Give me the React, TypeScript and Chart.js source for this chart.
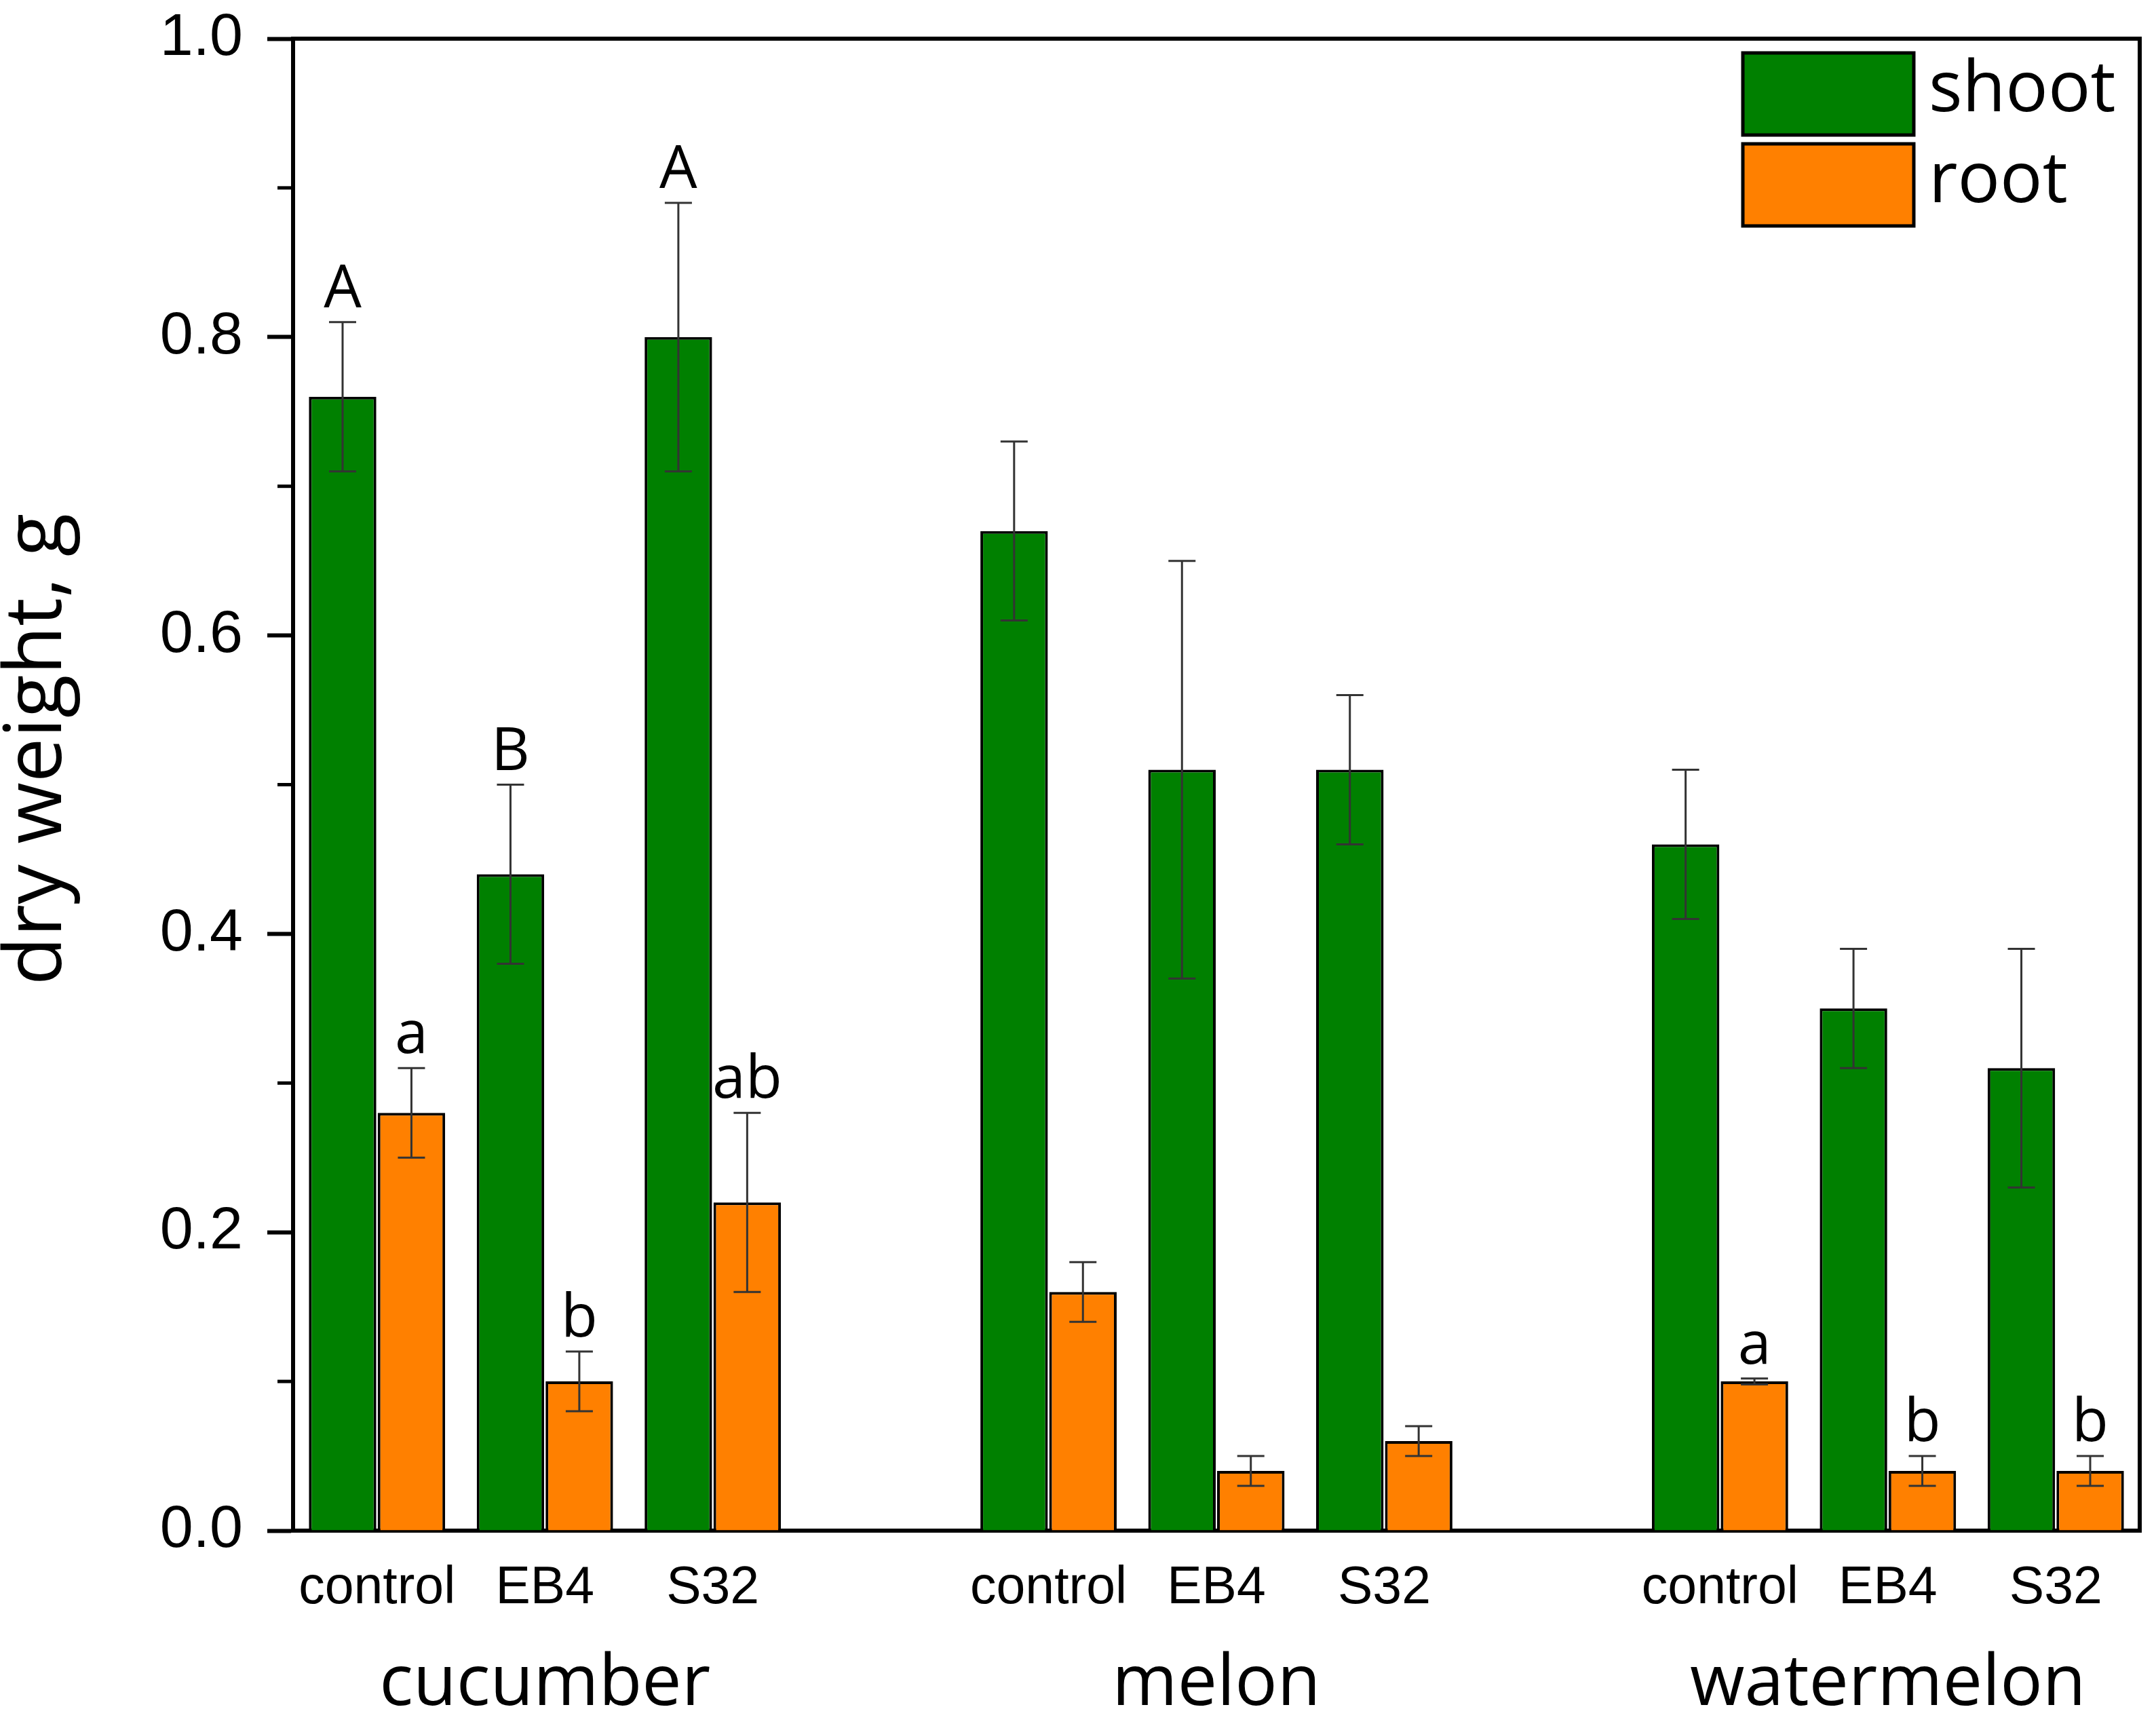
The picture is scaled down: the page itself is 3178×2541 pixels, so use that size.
import { useEffect, useRef } from 'react'
import { Chart, registerables } from 'chart.js'

Chart.register(...registerables)

// treatment slots (empty slots separate the crops)
const treatments = ['control', 'EB4', 'S32', '', 'control', 'EB4', 'S32', '', 'control', 'EB4', 'S32']
const crops = ['', 'cucumber', '', '', '', 'melon', '', '', '', 'watermelon', '']

const shoot = [0.76, 0.44, 0.8, null, 0.67, 0.51, 0.51, null, 0.46, 0.35, 0.31]
const shootErr = [0.05, 0.06, 0.09, null, 0.06, 0.14, 0.05, null, 0.05, 0.04, 0.08]
const shootLetters = ['A', 'B', 'A', '', '', '', '', '', '', '', '']

const root = [0.28, 0.1, 0.22, null, 0.16, 0.04, 0.06, null, 0.1, 0.04, 0.04]
const rootErr = [0.03, 0.02, 0.06, null, 0.02, 0.01, 0.01, null, 0.002, 0.01, 0.01]
const rootLetters = ['a', 'b', 'ab', '', '', '', '', '', 'a', 'b', 'b']

const yTicks = [0, 0.2, 0.4, 0.6, 0.8, 1.0]
const yMinorTicks = [0.1, 0.3, 0.5, 0.7, 0.9]
const yTitle = 'dry weight, g'

const errors = [shootErr, rootErr]
const letters = [shootLetters, rootLetters]

const SANS = 'Open Sans'
const ARIAL = 'Liberation Sans'

const errorBars = {
  id: 'errorBars',
  afterDatasetsDraw(chart: any) {
    const ctx = chart.ctx
    const y = chart.scales.y
    ctx.save()
    chart.data.datasets.forEach((ds: any, i: number) => {
      const meta = chart.getDatasetMeta(i)
      meta.data.forEach((bar: any, j: number) => {
        const v = ds.data[j]
        const e = errors[i][j]
        if (v == null || e == null) return
        const top = y.getPixelForValue(v + e)
        const bot = y.getPixelForValue(v - e)
        ctx.strokeStyle = '#333'
        ctx.lineWidth = 3
        ctx.beginPath()
        ctx.moveTo(bar.x, top)
        ctx.lineTo(bar.x, bot)
        ctx.moveTo(bar.x - 20, top)
        ctx.lineTo(bar.x + 20, top)
        ctx.moveTo(bar.x - 20, bot)
        ctx.lineTo(bar.x + 20, bot)
        ctx.stroke()
        const txt = letters[i][j]
        if (txt) {
          ctx.fillStyle = '#000'
          ctx.font = `88px "${SANS}"`
          ctx.textAlign = 'center'
          ctx.textBaseline = 'alphabetic'
          ctx.fillText(txt, bar.x, top - 22)
        }
      })
    })
    ctx.restore()
  },
}

const frame = {
  id: 'frame',
  afterDraw(chart: any) {
    const { ctx, chartArea: a, scales } = chart
    ctx.save()
    ctx.strokeStyle = '#000'
    ctx.lineWidth = 6
    ctx.beginPath()
    ctx.moveTo(a.left - 3, a.top)
    ctx.lineTo(a.right, a.top)
    ctx.lineTo(a.right, a.bottom + 3)
    ctx.stroke()
    // minor ticks on the y axis
    ctx.lineWidth = 5
    yMinorTicks.forEach((v) => {
      const py = scales.y.getPixelForValue(v)
      ctx.beginPath()
      ctx.moveTo(a.left - 23, py)
      ctx.lineTo(a.left, py)
      ctx.stroke()
    })
    // y axis title, sits a little above the middle of the axis
    ctx.save()
    ctx.translate(57, (a.top + a.bottom) / 2 - 52)
    ctx.rotate(-Math.PI / 2)
    ctx.fillStyle = '#000'
    ctx.font = `117px "${SANS}"`
    ctx.textAlign = 'center'
    ctx.textBaseline = 'middle'
    ctx.fillText(yTitle, 0, 0)
    ctx.restore()
    // legend inside the plot, top right
    chart.data.datasets.forEach((ds: any, i: number) => {
      const bx = a.right - 585
      const by = a.top + 21 + i * 134
      ctx.fillStyle = ds.backgroundColor
      ctx.fillRect(bx, by, 252, 121)
      ctx.lineWidth = 5
      ctx.strokeRect(bx, by, 252, 121)
      ctx.fillStyle = '#000'
      ctx.font = `104px "${SANS}"`
      ctx.textAlign = 'left'
      ctx.textBaseline = 'middle'
      ctx.fillText(ds.label, bx + 274, by + 56)
    })
    ctx.restore()
  },
}

export default function App() {
  const canvasRef = useRef<HTMLCanvasElement>(null)

  useEffect(() => {
    if (!canvasRef.current) return
    const chart = new Chart(canvasRef.current, {
      type: 'bar',
      data: {
        labels: treatments,
        datasets: [
          {
            label: 'shoot',
            data: shoot,
            backgroundColor: '#008000',
            borderColor: '#000',
            borderWidth: 4,
            categoryPercentage: 0.82,
            barPercentage: 0.98,
          },
          {
            label: 'root',
            data: root,
            backgroundColor: '#ff8000',
            borderColor: '#000',
            borderWidth: 4,
            categoryPercentage: 0.82,
            barPercentage: 0.98,
          },
        ],
      },
      options: {
        animation: false,
        responsive: true,
        maintainAspectRatio: false,
        devicePixelRatio: 1,
        layout: { padding: { left: 0, right: 24, top: 57, bottom: 0 } },
        plugins: {
          legend: { display: false },
          tooltip: { enabled: false },
        },
        scales: {
          x: {
            type: 'category',
            position: 'bottom',
            weight: 0,
            grid: { display: false },
            border: { display: true, color: '#000', width: 6 },
            ticks: {
              color: '#000',
              autoSkip: false,
              maxRotation: 0,
              minRotation: 0,
              padding: 32,
              font: { family: ARIAL, size: 77 },
            },
            afterFit: (s: any) => {
              s.height = 130
            },
          },
          x2: {
            type: 'category',
            position: 'bottom',
            weight: 1,
            labels: crops,
            offset: true,
            grid: { display: false },
            border: { display: false },
            ticks: {
              color: '#000',
              autoSkip: false,
              maxRotation: 0,
              minRotation: 0,
              padding: 27,
              font: { family: SANS, size: 104 },
            },
            afterFit: (s: any) => {
              s.height = 155
            },
          },
          y: {
            min: 0,
            max: 1,
            afterBuildTicks: (s: any) => {
              s.ticks = yTicks.map((v) => ({ value: v }))
            },
            grid: {
              display: true,
              drawOnChartArea: false,
              drawTicks: true,
              tickLength: 38,
              tickWidth: 6,
              tickColor: '#000',
            },
            border: { display: true, color: '#000', width: 6 },
            ticks: {
              color: '#000',
              padding: 36,
              font: { family: ARIAL, size: 88 },
              callback: (v: any) => Number(v).toFixed(1),
            },
            title: { display: false },
            afterFit: (s: any) => {
              s.width = 432
              s.paddingTop = 0
              s.paddingBottom = 0
            },
          },
        },
      },
      plugins: [errorBars, frame],
    })
    return () => chart.destroy()
  }, [])

  return (
    <div
      style={{
        position: 'absolute',
        left: 0,
        top: 0,
        width: 3178,
        height: 2541,
        background: '#fff',
      }}
    >
      <canvas ref={canvasRef} />
    </div>
  )
}
